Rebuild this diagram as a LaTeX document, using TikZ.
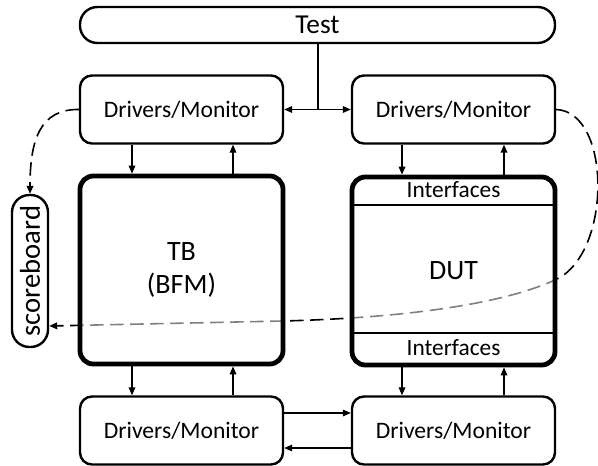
\documentclass[tikz,border=0pt]{standalone}
\usepackage{fontspec}
\setmainfont{Carlito}
\usetikzlibrary{arrows.meta}
\begin{document}
\begin{tikzpicture}[x=0.75pt,y=-0.75pt,
  dmbox/.style={draw, line width=1.8pt, rounded corners=9pt, fill=white, inner sep=0pt,
    minimum width=203*0.75pt, minimum height=68*0.75pt, font=\fontsize{17.7}{21}\selectfont},
  bigbox/.style={draw, line width=3.6pt, rounded corners=10pt, fill=white, fill opacity=0.5, text opacity=1,
    inner sep=0pt, minimum width=203*0.75pt, minimum height=188*0.75pt, align=center,
    font=\fontsize{21}{25}\selectfont},
  arr/.style={line width=0.9pt, -{Triangle[length=6pt,width=5pt]}},
  darr/.style={line width=0.9pt, {Triangle[length=6pt,width=5pt]}-{Triangle[length=6pt,width=5pt]}},
  dashline/.style={line width=1.2pt, dash pattern=on 10pt off 5pt, -{Triangle[length=6pt,width=5pt]}},
  lbl/.style={inner sep=0pt, font=\fontsize{17.5}{20}\selectfont}]
\useasboundingbox (0,0) rectangle (598,466);
\fill[white] (0,0) rectangle (598,466);
% dashed feedback curves (drawn first, under the big boxes)
\coordinate (ya) at (0,326);
\node[draw, line width=1.8pt, rounded corners=13pt, fill=white, inner sep=0pt,
  minimum width=36*0.75pt, minimum height=152*0.75pt] (sb) at (30,271)
  {\rotatebox{90}{\fontsize{21.5}{22}\selectfont scoreboard}};
\node[dmbox] (tl) at (181.5,109.5) {Drivers/Monitor};
\node[dmbox] (tr) at (453.5,109.5) {Drivers/Monitor};
\draw[dashline] (tl.west) .. controls (40,109) and (30,140) .. (sb.north);
\draw[dashline] (tr.east) .. controls (612,112) and (612,255) .. (555,280)
  .. controls (500,305) and (400,318) .. (283,321) -- (sb.east |- ya);
% boxes
\node[draw, line width=1.8pt, rounded corners=13pt, fill=white, inner sep=0pt,
  minimum width=475*0.75pt, minimum height=36*0.75pt, font=\fontsize{20.5}{24}\selectfont] (test) at (317.5,25) {Test};
\node[bigbox] (tb) at (181.5,270) {TB\\(BFM)};
\node[bigbox] (dut) at (453.5,271) {DUT};
\node[dmbox] (bl) at (181.5,430.5) {Drivers/Monitor};
\node[dmbox] (br) at (453.5,430.5) {Drivers/Monitor};
% interfaces
\coordinate (i1) at (0,205);
\coordinate (i2) at (0,333);
\draw[line width=0.9pt] (dut.west |- i1) -- (dut.east |- i1);
\draw[line width=0.9pt] (dut.west |- i2) -- (dut.east |- i2);
\node[lbl] (if1) at (453.5,190) {Interfaces};
\node[lbl] (if2) at (453.5,348) {Interfaces};
% test connection
\coordinate (tx) at (318,0);
\draw[line width=0.9pt] (test.south -| tx) -- (tx |- tl.east);
\draw[darr] (tl.east) -- (tr.west);
% vertical arrows
\coordinate (xa) at (132,0);
\coordinate (xb) at (233,0);
\coordinate (xc) at (402,0);
\coordinate (xd) at (504,0);
\draw[arr] (tl.south -| xa) -- (tb.north -| xa);
\draw[arr] (tb.north -| xb) -- (tl.south -| xb);
\draw[arr] (tr.south -| xc) -- (dut.north -| xc);
\draw[arr] (dut.north -| xd) -- (tr.south -| xd);
\draw[arr] (tb.south -| xa) -- (bl.north -| xa);
\draw[arr] (bl.north -| xb) -- (tb.south -| xb);
\draw[arr] (dut.south -| xc) -- (br.north -| xc);
\draw[arr] (br.north -| xd) -- (dut.south -| xd);
% bottom horizontals
\coordinate (yb) at (0,413);
\coordinate (yc) at (0,448);
\draw[arr] (bl.east |- yb) -- (br.west |- yb);
\draw[arr] (br.west |- yc) -- (bl.east |- yc);
\end{tikzpicture}
\end{document}
